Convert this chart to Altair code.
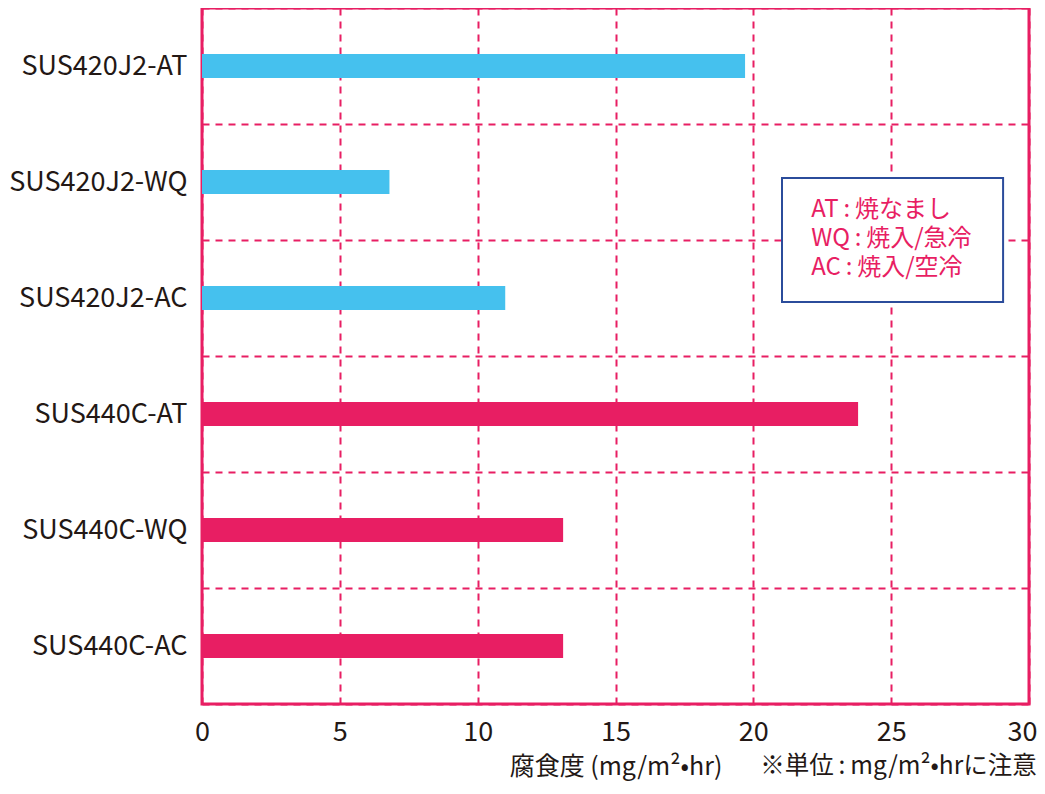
import altair as alt
import pandas as pd

categories = ["SUS420J2-AT", "SUS420J2-WQ", "SUS420J2-AC",
              "SUS440C-AT", "SUS440C-WQ", "SUS440C-AC"]
values = [19.7, 6.8, 11.0, 23.8, 13.1, 13.1]
steel = ["SUS420J2", "SUS420J2", "SUS420J2", "SUS440C", "SUS440C", "SUS440C"]
x_ticks = [0, 5, 10, 15, 20, 25, 30]
legend_lines = ["AT\u2009:\u2009焼なまし", "WQ\u2009:\u2009焼入/急冷", "AC\u2009:\u2009焼入/空冷"]
x_title = "腐食度 (mg/m²•hr)"
note = "※単位\u2009:\u2009mg/m²•hrに注意"

PINK = "#e81e63"
BLUE = "#45c1ee"
NAVY = "#2b4c9b"
INK = "#231815"
FONT = "Noto Sans CJK JP"

W, H = 827, 696

df = pd.DataFrame({"cat": categories, "value": values, "steel": steel})

xscale = alt.Scale(domain=[0, 30], nice=False, zero=True)

bars = alt.Chart(df).mark_bar(size=24).encode(
    y=alt.Y("cat:N", sort=categories,
            scale=alt.Scale(paddingInner=0, paddingOuter=0),
            axis=alt.Axis(title=None, labelFontSize=27, labelColor=INK,
                          labelPadding=15, labelLimit=0, ticks=False, domain=False,
                          grid=True, gridColor=PINK, gridDash=[7, 6],
                          gridWidth=2, tickBand="extent", labelFont=FONT)),
    x=alt.X("value:Q", scale=xscale,
            axis=alt.Axis(values=x_ticks, labelFontSize=27, labelColor=INK,
                          labelPadding=15, labelFlush=False,
                          labelOffset={"condition": {"test": "datum.value == 30", "value": -7},
                                       "value": 0},
                          ticks=False, domain=False,
                          grid=True, gridColor=PINK, gridDash=[7, 6],
                          gridWidth=2, title=x_title, titleFontSize=25,
                          titleFontWeight="normal", titleColor=INK,
                          titlePadding=9, labelFont=FONT, titleFont=FONT)),
    color=alt.Color("steel:N", scale=alt.Scale(domain=["SUS420J2", "SUS440C"],
                                                range=[BLUE, PINK]), legend=None),
)

box = alt.Chart(pd.DataFrame({"a": [0]})).mark_rect(
    fill="white", stroke=NAVY, strokeWidth=2
).encode(
    x=alt.datum(21.04, scale=xscale), x2=alt.datum(29.06),
    y=alt.value(170), y2=alt.value(294),
)

legend_df = pd.DataFrame({"line": legend_lines, "py": [209, 238, 267]})
legend_text = alt.Chart(legend_df).mark_text(
    align="left", baseline="alphabetic", fontSize=24, color=PINK, font=FONT
).encode(
    x=alt.datum(22.1, scale=xscale),
    y=alt.Y("py:Q", scale=alt.Scale(domain=[0, H], range=[0, H]), axis=None),
    text="line:N",
)

note_text = alt.Chart(pd.DataFrame({"t": [note]})).mark_text(
    align="left", baseline="alphabetic", fontSize=24.5, color=INK, font=FONT
).encode(
    x=alt.datum(20.25, scale=xscale),
    y=alt.value(766),
    text="t:N",
)

chart = alt.layer(bars, box, legend_text, note_text).resolve_scale(
    y="independent"
).properties(
    width=W, height=H,
    padding={"left": 194, "top": 0, "right": 8, "bottom": 77},
    autosize=alt.AutoSizeParams(type="none"),
).configure(font=FONT).configure_view(
    stroke=PINK, strokeWidth=3
)

chart.save("out.html", embed_options={"renderer": "svg", "actions": False})
